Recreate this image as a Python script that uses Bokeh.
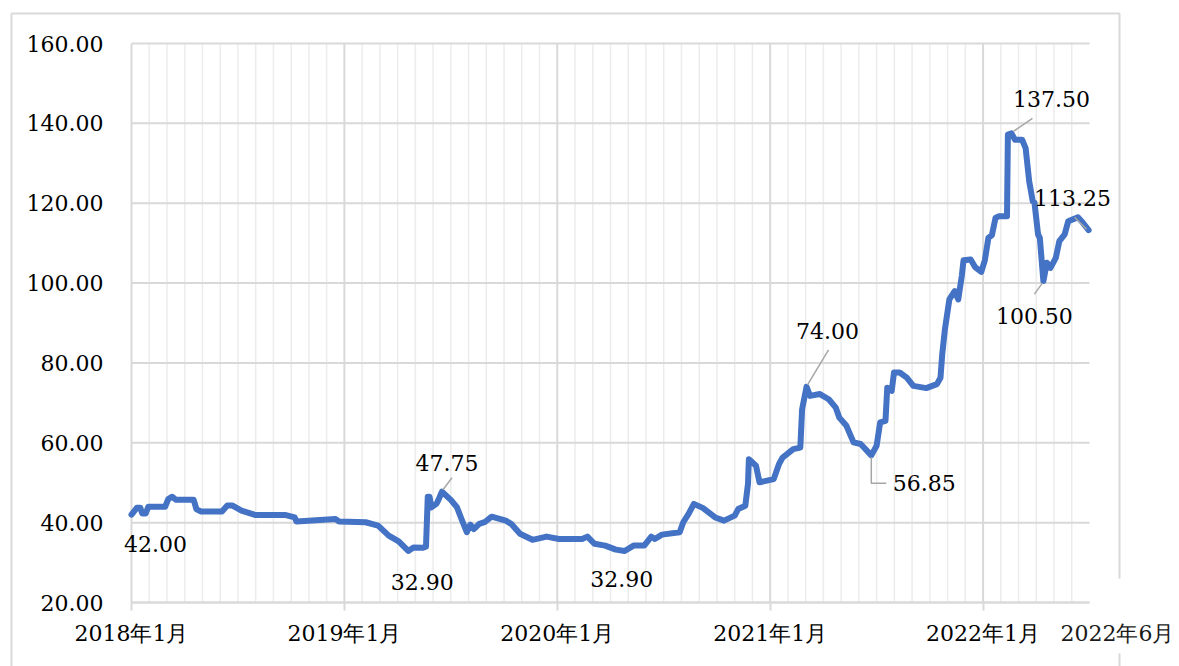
import numpy as np
from bokeh.plotting import figure
from bokeh.models import FixedTicker, Range1d
from bokeh.core.properties import value
from bokeh.embed import file_html
from bokeh.resources import INLINE

# ---- data (x = months since 2018-01) ----
months = [0.0, 0.3, 0.5, 0.6, 0.8, 0.95, 1.9, 2.07, 2.3, 2.5, 3.5, 3.66, 3.9, 5.1, 5.4, 5.67,
          6.2, 7.0, 8.7, 9.2, 9.3, 11.5, 11.7, 13.2, 13.9, 14.5, 15.06, 15.6, 15.9, 16.4, 16.6,
          16.7, 16.8, 16.9, 17.2, 17.3, 17.5, 18.0, 18.35, 18.6, 18.9, 19.1, 19.3, 19.6, 19.9,
          20.3, 21.1, 21.4, 21.9, 22.6, 23.4, 24.1, 25.4, 25.7, 26.1, 26.7, 27.3, 27.8, 28.3,
          28.9, 29.3, 29.5, 29.9, 30.9, 31.1, 31.4, 31.7, 32.2, 32.9, 33.4, 34.0, 34.2, 34.6,
          34.75, 34.8, 35.2, 35.4, 36.2, 36.5, 36.7, 37.3, 37.7, 37.8, 38.05, 38.25, 38.8, 39.3,
          39.7, 39.9, 40.3, 40.7, 41.1, 41.7, 42.0, 42.2, 42.5, 42.6, 42.85, 42.98, 43.3, 43.7,
          44.07, 44.8, 45.4, 45.6, 45.7, 45.85, 46.1, 46.4, 46.6, 46.8, 46.9, 47.3, 47.55, 47.9,
          48.1, 48.3, 48.5, 48.7, 48.9, 49.35, 49.4, 49.6, 49.8, 50.2, 50.4, 50.6, 50.8, 50.9,
          51.1, 51.2, 51.4, 51.6, 51.8, 52.1, 52.3, 52.6, 52.8, 53.2, 53.35, 53.55, 53.95]
prices = [42.0, 43.7, 43.7, 42.3, 42.3, 44.0, 44.0, 45.9, 46.5, 45.75, 45.75, 43.4, 42.8, 42.8, 44.3, 44.3,
          43.0, 41.9, 41.9, 41.3, 40.3, 40.9, 40.3, 40.1, 39.25, 36.75, 35.3, 32.9, 33.8, 33.7, 34.0,
          46.5, 46.5, 43.8, 44.8, 45.7, 47.75, 45.7, 43.8, 40.9, 37.6, 39.5, 38.4, 39.7, 40.1,
          41.5, 40.5, 39.7, 37.2, 35.7, 36.5, 35.9, 35.9, 36.5, 34.7, 34.25, 33.25, 32.9, 34.25,
          34.25, 36.5, 35.9, 37.0, 37.6, 40.1, 42.2, 44.7, 43.7, 41.3, 40.5, 41.75, 43.4, 44.25,
          49.7, 55.9, 54.25, 50.1, 50.9, 54.7, 56.3, 58.4, 58.8, 68.4, 74.0, 71.75, 72.2, 70.9,
          68.8, 66.3, 64.25, 60.1, 59.7, 56.85, 59.25, 65.1, 65.5, 73.8, 73.0, 77.6, 77.6, 76.3,
          74.25, 73.7, 74.7, 76.3, 82.2, 88.4, 95.9, 98.0, 95.9, 101.75, 105.7, 105.9, 104.0, 102.8,
          105.7, 111.3, 112.0, 116.3, 116.75, 116.75, 137.2, 137.5, 135.9, 135.9, 133.8, 125.5, 120.5, 120.1,
          112.2, 111.3, 100.5, 105.1, 103.8, 106.3, 110.5, 112.2, 115.5, 116.2, 116.5, 115.5, 113.25]

x_tick_months = [0, 12, 24, 36, 48]
x_tick_labels = ["2018年1月", "2019年1月", "2020年1月", "2021年1月", "2022年1月"]
y_ticks = [20, 40, 60, 80, 100, 120, 140, 160]
end_label = "2022年6月"

# annotated points: (month of point, label text)
ann_months = [0.0, 15.6, 17.5, 27.8, 38.05, 41.7, 49.6, 51.4, 53.95]
ann_texts = ["42.00", "32.90", "47.75", "32.90", "74.00", "56.85", "137.50", "100.50", "113.25"]

# ---- styling / layout (pixels) ----
ann_text_off = [(24, -29), (14, -31), (5, 29), (-3, -28), (21, 56), (53, -28), (40, 34), (-9, -35), (-16, 32)]
ann_leaders = [None, None, [(1, 2), (10, 14)], None, [(1, 2), (22, 37)], [(0, -2), (0, -28), (15, -28)],
               [(2, 2), (21, 15)], [(-1, -2), (-9, -13)], [(-2, 1), (-14, 13)]]

X0, X1 = 0, 54
Y0, Y1 = 20, 160
W, H = 1179, 666
PL, PR, PT, PB = 131, 1089, 43, 602          # data area in canvas pixels
ppx = (PR - PL) / (X1 - X0)
ppy = (PB - PT) / (Y1 - Y0)


def cx(px):
    return X0 + (px - PL) / ppx


def cy(py):
    return Y0 + (PB - py) / ppy


SERIF = "DejaVu Serif"
GRID = "#d9d9d9"
MINOR = "#ececec"
FS = "22px"

p = figure(width=W, height=H, output_backend="svg", toolbar_location=None,
           x_range=Range1d(cx(0), cx(W)), y_range=Range1d(cy(H), cy(0)),
           min_border_left=0, min_border_right=0, min_border_top=0, min_border_bottom=0)
p.outline_line_color = None
p.background_fill_color = "white"
p.border_fill_color = "white"
p.xgrid.visible = False
p.ygrid.visible = False

# grid lines restricted to the data area
minor_months = [m for m in range(X0 + 1, X1) if m not in x_tick_months]
p.segment(x0=minor_months, y0=[Y0] * len(minor_months), x1=minor_months, y1=[Y1] * len(minor_months),
          line_color=MINOR, line_width=1.5)
p.segment(x0=[X0] * len(y_ticks), y0=y_ticks, x1=[X1] * len(y_ticks), y1=y_ticks,
          line_color=GRID, line_width=2)
p.segment(x0=x_tick_months, y0=[Y0] * len(x_tick_months), x1=x_tick_months, y1=[Y1] * len(x_tick_months),
          line_color=GRID, line_width=2)

# axes placed on the data area
p.xaxis.fixed_location = Y0
p.xaxis.bounds = (X0, X1)
p.xaxis.ticker = FixedTicker(ticks=x_tick_months)
p.xaxis.major_label_overrides = {m: t for m, t in zip(x_tick_months, x_tick_labels)}
p.xaxis.axis_line_color = GRID
p.xaxis.axis_line_width = 2
p.xaxis.major_tick_line_color = GRID
p.xaxis.major_tick_line_width = 2
p.xaxis.major_tick_out = 8
p.xaxis.major_tick_in = 0
p.xaxis.minor_tick_line_color = None
p.xaxis.major_label_standoff = 10
p.xaxis.major_label_text_font = SERIF
p.xaxis.major_label_text_font_size = FS
p.xaxis.major_label_text_color = "#000000"

p.yaxis.fixed_location = X0
p.yaxis.bounds = (Y0, Y1)
p.yaxis.ticker = FixedTicker(ticks=y_ticks)
p.yaxis.major_label_overrides = {t: f"{t:.2f}" for t in y_ticks}
p.yaxis.axis_line_color = None
p.yaxis.major_tick_line_color = None
p.yaxis.minor_tick_line_color = None
p.yaxis.major_tick_out = 0
p.yaxis.major_tick_in = 0
p.yaxis.major_label_standoff = 28
p.yaxis.major_label_text_font = SERIF
p.yaxis.major_label_text_font_size = FS
p.yaxis.major_label_text_color = "#000000"

# series
p.line(months, prices, line_color="#4472C4", line_width=6, line_join="round", line_cap="round")

# data labels and leader lines
mi = np.array(months)
for m, txt, (dx, dy), leader in zip(ann_months, ann_texts, ann_text_off, ann_leaders):
    i = int(np.argmin(np.abs(mi - m)))
    ax, ay = months[i], prices[i]
    if leader:
        p.line([ax + lx / ppx for lx, ly in leader], [ay + ly / ppy for lx, ly in leader],
               line_color="#a6a6a6", line_width=1.5)
    p.text([ax + dx / ppx], [ay + dy / ppy], text=[txt], text_font=value(SERIF),
           text_font_size=FS, text_align="center", text_baseline="middle", text_color="#000000")

# outer chart border (gap on the right where the end label sits)
p.multi_line(xs=[[cx(1119), cx(1119), cx(11), cx(11)], [cx(1119), cx(1119)]],
             ys=[[cy(578), cy(13), cy(13), cy(670)], [cy(653), cy(670)]],
             line_color=GRID, line_width=2)

# end label
p.text([cx(1117)], [cy(633)], text=[end_label], text_font=value(SERIF), text_font_size=FS,
       text_align="center", text_baseline="middle", text_color="#1a1a1a")

open("out.html", "w").write(file_html(p, INLINE))
